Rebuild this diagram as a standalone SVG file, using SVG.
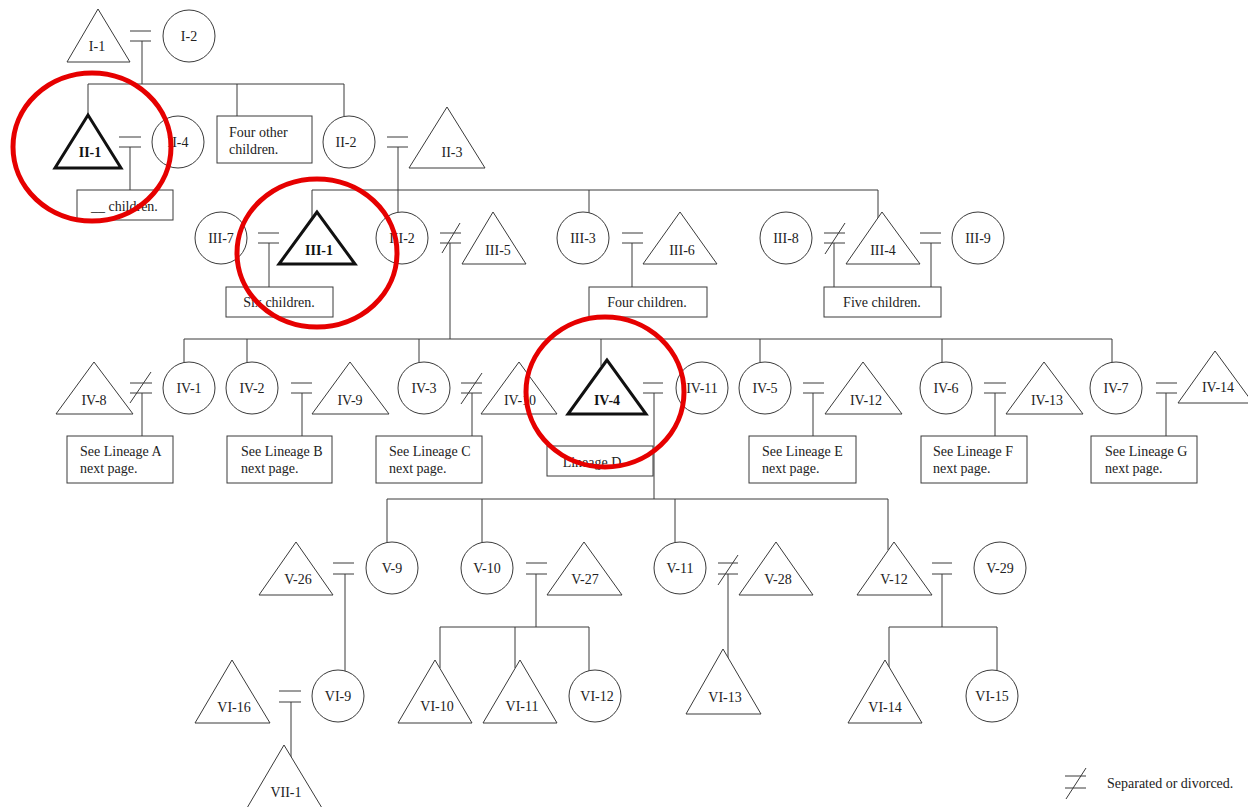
<svg xmlns="http://www.w3.org/2000/svg" width="1248" height="807" viewBox="0 0 1248 807">
  <style>
    .ln { stroke: #3a3a3a; stroke-width: 1; fill: none; }
    .nd { fill: #fff; stroke: #3a3a3a; stroke-width: 1; }
    .nd.bold { stroke: #111; stroke-width: 3; stroke-linejoin: miter; }
    .box { fill: #fff; stroke: #3a3a3a; stroke-width: 1; }
    text { font-family: "Liberation Serif", "Times New Roman", serif; font-size: 14px; fill: #222; }
    .c { text-anchor: middle; }
    .b { font-weight: bold; fill: #111; }
    .hl { fill: none; stroke: #e60000; stroke-width: 5; }
  </style>
  <rect width="1248" height="807" fill="#fff"/>

  <!-- connectors: couple bars, descent lines, sibling lines -->
  <g id="connectors" class="ln">
    <!-- generation I -->
    <path d="M130 31H151M130 41H151M142 41V84"/>
    <path d="M88 84H344M88 84V115M237 84V116M344 84V116"/>
    <!-- generation II -->
    <path d="M119 137H141M119 147H141M130 147V190"/>
    <path d="M387 137H408M387 147H408M398 147V212"/>
    <path d="M312 190H878M312 190V219M589 190V213M878 190V218"/>
    <!-- generation III -->
    <path d="M258 233H279M258 243H279M269 243V287"/>
    <path d="M440 233H461M440 243H461M442 253L460 223M450 243V339"/>
    <path d="M622 233H643M622 243H643M632 243V287"/>
    <path d="M824 233H845M824 243H845M825 254L845 223M834 243V287"/>
    <path d="M920 233H941M920 243H941M931 243V287"/>
    <path d="M184 339H1112M184 339V363M247 339V363M419 339V363M601 339V366M760 339V363M942 339V363M1112 339V363"/>
    <!-- generation IV -->
    <path d="M130 383H152M130 393H152M130 403L151 372M142 393V436"/>
    <path d="M291 383H312M291 393H312M302 393V436"/>
    <path d="M461 383H482M461 393H482M461 404L482 373M472 393V436"/>
    <path d="M643 383H663M643 393H663M654 393V499"/>
    <path d="M803 383H824M803 393H824M813 393V436"/>
    <path d="M984 383H1006M984 393H1006M995 393V436"/>
    <path d="M1156 383H1177M1156 393H1177M1166 393V436"/>
    <path d="M387 499H888M387 499V543M482 499V543M675 499V543M888 499V550"/>
    <!-- generation V -->
    <path d="M333 563H354M333 574H354M345 574V671"/>
    <path d="M526 563H547M526 574H547M536 574V627"/>
    <path d="M718 563H738M718 574H738M718 585L738 555M728 574V658"/>
    <path d="M932 563H952M932 574H952M942 574V627"/>
    <path d="M440 627H589M440 627V668M515 627V668M589 627V671"/>
    <path d="M889 627H997M889 627V667M997 627V671"/>
    <!-- generation VI -->
    <path d="M279 691H301M279 702H301M291 702V757"/>
  </g>

  <!-- generation I -->
  <g id="n-I-1"><polygon class="nd" points="98,9 67,62 130,62"/><text class="c" x="97" y="51">I-1</text></g>
  <g id="n-I-2"><circle class="nd" cx="189" cy="36" r="26"/><text class="c" x="189" y="41">I-2</text></g>

  <!-- generation II -->
  <g id="n-II-1"><polygon class="nd bold" points="88,115 55,168 121,168"/><text class="c b" x="90" y="157">II-1</text></g>
  <g id="n-II-4"><circle class="nd" cx="178" cy="142" r="26"/><text class="c" x="178" y="147">II-4</text></g>
  <g id="n-II-others"><rect class="box" x="217" y="116" width="95" height="47"/><text x="229" y="137">Four other</text><text x="229" y="154">children.</text></g>
  <g id="n-II-2"><circle class="nd" cx="349" cy="142" r="26"/><text class="c" x="346" y="147">II-2</text></g>
  <g id="n-II-3"><polygon class="nd" points="447,107 409,168 485,168"/><text class="c" x="452" y="157">II-3</text></g>
  <g id="n-II-1-children"><rect class="box" x="77" y="190" width="96" height="30"/><text x="91" y="211">__ children.</text></g>

  <!-- generation III -->
  <g id="n-III-7"><circle class="nd" cx="221" cy="238" r="26"/><text class="c" x="221" y="243">III-7</text></g>
  <g id="n-III-1"><polygon class="nd bold" points="317,212 279,264 355,264"/><text class="c b" x="319" y="255">III-1</text></g>
  <g id="n-III-2"><circle class="nd" cx="402" cy="238" r="26"/><text class="c" x="402" y="243">III-2</text></g>
  <g id="n-III-5"><polygon class="nd" points="493,212 462,264 526,264"/><text class="c" x="498" y="255">III-5</text></g>
  <g id="n-III-3"><circle class="nd" cx="583" cy="238" r="26"/><text class="c" x="583" y="243">III-3</text></g>
  <g id="n-III-6"><polygon class="nd" points="680,212 643,264 717,264"/><text class="c" x="682" y="255">III-6</text></g>
  <g id="n-III-8"><circle class="nd" cx="786" cy="238" r="26"/><text class="c" x="786" y="243">III-8</text></g>
  <g id="n-III-4"><polygon class="nd" points="882,212 846,264 920,264"/><text class="c" x="883" y="255">III-4</text></g>
  <g id="n-III-9"><circle class="nd" cx="978" cy="238" r="26"/><text class="c" x="978" y="243">III-9</text></g>
  <g id="n-III-1-children"><rect class="box" x="226" y="287" width="107" height="30"/><text class="c" x="279" y="307">Six children.</text></g>
  <g id="n-III-3-children"><rect class="box" x="589" y="287" width="118" height="30"/><text class="c" x="647" y="307">Four children.</text></g>
  <g id="n-III-4-children"><rect class="box" x="824" y="287" width="117" height="30"/><text class="c" x="882" y="307">Five children.</text></g>

  <!-- generation IV -->
  <g id="n-IV-8"><polygon class="nd" points="94,362 56,414 133,414"/><text class="c" x="94" y="405">IV-8</text></g>
  <g id="n-IV-1"><circle class="nd" cx="189" cy="388" r="26"/><text class="c" x="189" y="393">IV-1</text></g>
  <g id="n-IV-2"><circle class="nd" cx="252" cy="388" r="26"/><text class="c" x="252" y="393">IV-2</text></g>
  <g id="n-IV-9"><polygon class="nd" points="350,362 312,414 389,414"/><text class="c" x="350" y="405">IV-9</text></g>
  <g id="n-IV-3"><circle class="nd" cx="424" cy="388" r="26"/><text class="c" x="424" y="393">IV-3</text></g>
  <g id="n-IV-10"><polygon class="nd" points="519,362 481,414 557,414"/><text class="c" x="520" y="405">IV-10</text></g>
  <g id="n-IV-4"><polygon class="nd bold" points="607,360 568,414 646,414"/><text class="c b" x="607" y="405">IV-4</text></g>
  <g id="n-IV-11"><circle class="nd" cx="702" cy="388" r="26"/><text class="c" x="702" y="393">IV-11</text></g>
  <g id="n-IV-5"><circle class="nd" cx="765" cy="388" r="26"/><text class="c" x="765" y="393">IV-5</text></g>
  <g id="n-IV-12"><polygon class="nd" points="863,362 825,414 902,414"/><text class="c" x="866" y="405">IV-12</text></g>
  <g id="n-IV-6"><circle class="nd" cx="946" cy="388" r="26"/><text class="c" x="946" y="393">IV-6</text></g>
  <g id="n-IV-13"><polygon class="nd" points="1044,362 1006,414 1083,414"/><text class="c" x="1047" y="405">IV-13</text></g>
  <g id="n-IV-7"><circle class="nd" cx="1116" cy="388" r="26"/><text class="c" x="1116" y="393">IV-7</text></g>
  <g id="n-IV-14"><polygon class="nd" points="1215,351 1178,403 1253,403"/><text class="c" x="1218" y="392">IV-14</text></g>
  <g id="n-lineage-A"><rect class="box" x="67" y="436" width="106" height="47"/><text x="80" y="456">See Lineage A</text><text x="80" y="473">next page.</text></g>
  <g id="n-lineage-B"><rect class="box" x="227" y="436" width="105" height="47"/><text x="241" y="456">See Lineage B</text><text x="241" y="473">next page.</text></g>
  <g id="n-lineage-C"><rect class="box" x="376" y="436" width="106" height="47"/><text x="389" y="456">See Lineage C</text><text x="389" y="473">next page.</text></g>
  <g id="n-lineage-D"><rect class="box" x="547" y="446" width="106" height="30"/><text class="c" x="592" y="467">Lineage D</text></g>
  <g id="n-lineage-E"><rect class="box" x="749" y="436" width="107" height="47"/><text x="762" y="456">See Lineage E</text><text x="762" y="473">next page.</text></g>
  <g id="n-lineage-F"><rect class="box" x="921" y="436" width="106" height="47"/><text x="933" y="456">See Lineage F</text><text x="933" y="473">next page.</text></g>
  <g id="n-lineage-G"><rect class="box" x="1091" y="436" width="106" height="47"/><text x="1105" y="456">See Lineage G</text><text x="1105" y="473">next page.</text></g>

  <!-- generation V -->
  <g id="n-V-26"><polygon class="nd" points="296,542 259,595 333,595"/><text class="c" x="298" y="584">V-26</text></g>
  <g id="n-V-9"><circle class="nd" cx="392" cy="568" r="26"/><text class="c" x="392" y="573">V-9</text></g>
  <g id="n-V-10"><circle class="nd" cx="487" cy="568" r="26"/><text class="c" x="487" y="573">V-10</text></g>
  <g id="n-V-27"><polygon class="nd" points="584,542 547,595 622,595"/><text class="c" x="585" y="584">V-27</text></g>
  <g id="n-V-11"><circle class="nd" cx="680" cy="568" r="26"/><text class="c" x="680" y="573">V-11</text></g>
  <g id="n-V-28"><polygon class="nd" points="776,542 739,595 813,595"/><text class="c" x="778" y="584">V-28</text></g>
  <g id="n-V-12"><polygon class="nd" points="894,542 857,595 932,595"/><text class="c" x="894" y="584">V-12</text></g>
  <g id="n-V-29"><circle class="nd" cx="1000" cy="568" r="26"/><text class="c" x="1000" y="573">V-29</text></g>

  <!-- generation VI -->
  <g id="n-VI-16"><polygon class="nd" points="232,660 195,723 270,723"/><text class="c" x="234" y="712">VI-16</text></g>
  <g id="n-VI-9"><circle class="nd" cx="338" cy="696" r="26"/><text class="c" x="338" y="701">VI-9</text></g>
  <g id="n-VI-10"><polygon class="nd" points="435,660 398,723 472,723"/><text class="c" x="437" y="711">VI-10</text></g>
  <g id="n-VI-11"><polygon class="nd" points="520,660 483,723 557,723"/><text class="c" x="522" y="711">VI-11</text></g>
  <g id="n-VI-12"><circle class="nd" cx="595" cy="696" r="26"/><text class="c" x="597" y="701">VI-12</text></g>
  <g id="n-VI-13"><polygon class="nd" points="723,649 686,714 761,714"/><text class="c" x="725" y="702">VI-13</text></g>
  <g id="n-VI-14"><polygon class="nd" points="885,660 848,723 922,723"/><text class="c" x="885" y="712">VI-14</text></g>
  <g id="n-VI-15"><circle class="nd" cx="992" cy="696" r="26"/><text class="c" x="992" y="701">VI-15</text></g>

  <!-- generation VII -->
  <g id="n-VII-1"><polygon class="nd" points="284,745 247,808 322,808"/><text class="c" x="286" y="797">VII-1</text></g>

  <!-- legend -->
  <g id="legend">
    <path class="ln" d="M1065 776H1086M1065 788H1086M1066 799L1086 768"/>
    <text x="1107" y="788">Separated or divorced.</text>
  </g>

  <!-- highlight rings -->
  <g id="highlights">
    <ellipse class="hl" cx="92" cy="147" rx="79" ry="74"/>
    <ellipse class="hl" cx="317" cy="253" rx="80" ry="74"/>
    <ellipse class="hl" cx="605" cy="392" rx="79" ry="75"/>
  </g>
</svg>
